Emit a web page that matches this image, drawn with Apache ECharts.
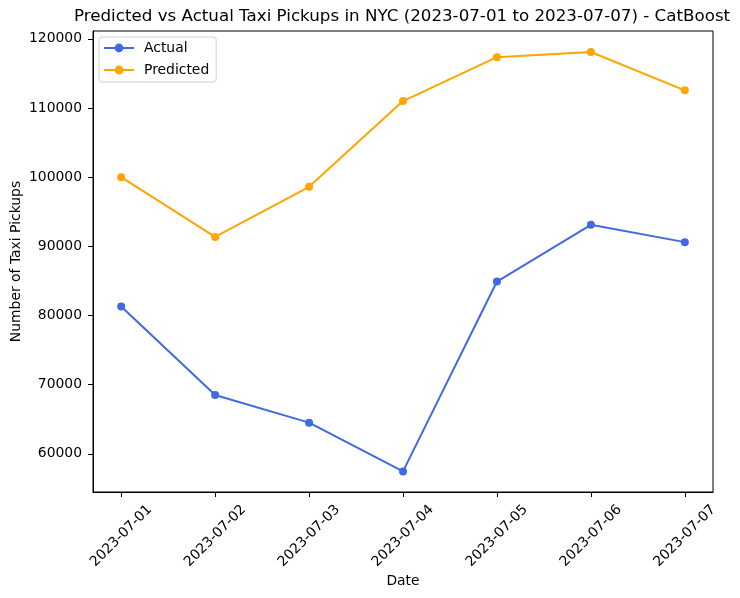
<!DOCTYPE html>
<html>
<head>
<meta charset="utf-8">
<script src="https://cdn.jsdelivr.net/npm/echarts@6/dist/echarts.min.js"></script>
<style>html,body{margin:0;padding:0;background:#fff}#c{width:740px;height:598px}</style>
</head>
<body>
<div id="c"></div>
<script>
const dates = ['2023-07-01','2023-07-02','2023-07-03','2023-07-04','2023-07-05','2023-07-06','2023-07-07'];
const actual = [81300, 68500, 64500, 57450, 84900, 93100, 90600];
const predicted = [100000, 91350, 98600, 111000, 117350, 118100, 112550];
const yTicks = [60000, 70000, 80000, 90000, 100000, 110000, 120000];

const F = 'DejaVu Sans';
const idx = dates.map((d, i) => i);
const chart = echarts.init(document.getElementById('c'), null, {renderer: 'canvas'});
chart.setOption({
  animation: false,
  backgroundColor: '#fff',
  title: {
    text: 'Predicted vs Actual Taxi Pickups in NYC (2023-07-01 to 2023-07-07) - CatBoost',
    left: 69, top: 3,
    textStyle: {fontFamily: F, fontSize: 16.7, fontWeight: 'normal', color: '#000'}
  },
  grid: {left: 93, right: 27, top: 31, bottom: 106, show: true, borderColor: '#000', borderWidth: 1,
         backgroundColor: 'transparent', outerBoundsMode: 'none', containLabel: false},
  legend: {
    orient: 'vertical', left: 99, top: 37,
    itemWidth: 30, itemHeight: 11, itemGap: 8,
    padding: [4, 7, 5, 4],
    borderColor: '#d0d0d0', borderWidth: 1, borderRadius: 3,
    textStyle: {fontFamily: F, fontSize: 13.9, color: '#000', padding: [0, 0, 0, 5]},
    data: ['Actual', 'Predicted']
  },
  xAxis: {
    type: 'value', min: -0.3, max: 6.3,
    name: 'Date', nameLocation: 'middle', nameGap: 82, nameMoveOverlap: false,
    nameTextStyle: {fontFamily: F, fontSize: 13.9, color: '#000'},
    axisLine: {show: true, onZero: false, lineStyle: {color: '#000'}},
    splitLine: {show: false},
    axisTick: {show: true, length: 5, lineStyle: {color: '#000'}, customValues: idx},
    axisLabel: {
      customValues: idx, rotate: 45, align: 'center', verticalAlign: 'middle', margin: 44,
      fontFamily: F, fontSize: 13.9, color: '#000',
      formatter: v => dates[Math.round(v)]
    }
  },
  yAxis: {
    type: 'value', min: 54470, max: 121130,
    name: 'Number of Taxi Pickups', nameLocation: 'middle', nameGap: 70, nameMoveOverlap: false,
    nameTextStyle: {fontFamily: F, fontSize: 13.9, color: '#000'},
    axisLine: {show: true, onZero: false, lineStyle: {color: '#000'}},
    splitLine: {show: false},
    axisTick: {show: true, length: 5, lineStyle: {color: '#000'}, customValues: yTicks},
    axisLabel: {customValues: yTicks, margin: 11, fontFamily: F, fontSize: 13.9, color: '#000', formatter: v => String(v)}
  },
  series: [
    {name: 'Actual', type: 'line', data: actual.map((v, i) => [i, v]), symbol: 'circle', symbolSize: 8,
     itemStyle: {color: '#4169E1'}, lineStyle: {color: '#4169E1', width: 2}},
    {name: 'Predicted', type: 'line', data: predicted.map((v, i) => [i, v]), symbol: 'circle', symbolSize: 8,
     itemStyle: {color: '#FFA500'}, lineStyle: {color: '#FFA500', width: 2}}
  ]
});
</script>
</body>
</html>
